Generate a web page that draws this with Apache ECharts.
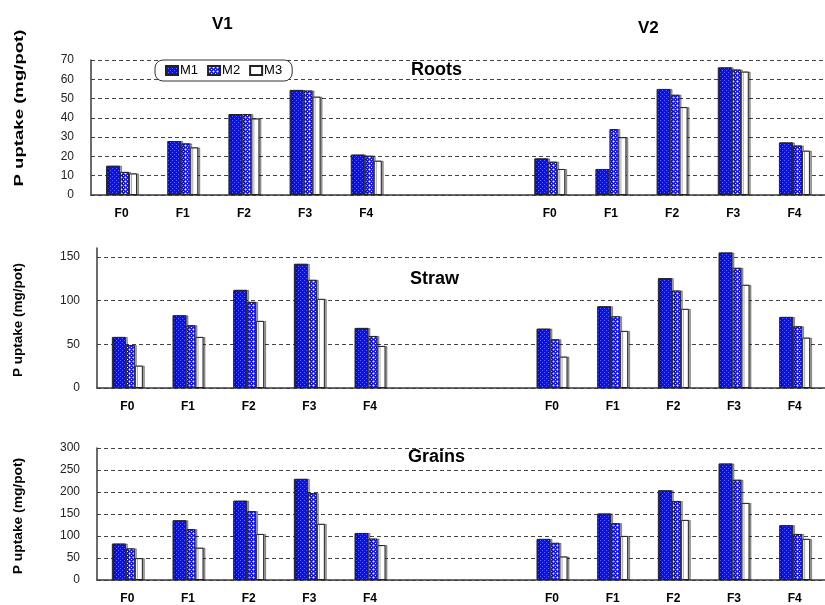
<!DOCTYPE html>
<html>
<head>
<meta charset="utf-8">
<title>P uptake</title>
<script src="https://cdn.jsdelivr.net/npm/echarts@6/dist/echarts.min.js"></script>
<style>
  html, body { margin: 0; padding: 0; background: #fff; }
  #chart { width: 825px; height: 605px; }
</style>
</head>
<body>
<div id="chart"></div>
<script>
// categories: F0..F4 for V1, two empty slots, F0..F4 for V2
let levels = ['F0', 'F1', 'F2', 'F3', 'F4']
let categories = levels.concat(['', ''], levels)
let seriesNames = ['M1', 'M2', 'M3']

// values: first five V1, last five V2
let rootsM1 = [15.2, 28, 42, 54.5, 21, 19, 13.5, 55, 66.2, 27.3]
let rootsM2 = [12, 26.8, 42, 54.2, 20.4, 17.3, 34.2, 52, 65.1, 25.7]
let rootsM3 = [11.2, 24.7, 39.7, 51, 17.8, 13.5, 30, 45.6, 64, 23]

let strawM1 = [58.4, 83.2, 112.2, 142, 68.7, 67.9, 93.5, 125.6, 155, 81.3]
let strawM2 = [49.2, 71.8, 98.5, 123.7, 59.5, 55.7, 82, 111.5, 137.4, 70.6]
let strawM3 = [25.6, 58.4, 76.7, 101.9, 48.1, 35.9, 65.3, 90.5, 118, 57.6]

let grainsM1 = [83, 135.9, 180.4, 230, 106.9, 93.5, 151.4, 204, 265, 124.7]
let grainsM2 = [72, 115.8, 156.6, 197.5, 94.3, 84.6, 129.2, 179.7, 228, 104.7]
let grainsM3 = [49.7, 73.5, 104.7, 127.7, 79.4, 53.5, 100.2, 136.6, 175.2, 93.5]

let font = 'Liberation Sans, Arial, sans-serif'

// small tiles used as bar fills
function makeTile (base, dots) {
  let c = document.createElement('canvas')
  c.width = 4
  c.height = 4
  let ctx = c.getContext('2d')
  ctx.fillStyle = base
  ctx.fillRect(0, 0, 4, 4)
  dots.forEach(function (d) {
    ctx.fillStyle = d[2]
    ctx.fillRect(d[0], d[1], 1, 1)
  })
  return c
}
let fillM1 = { image: makeTile('#0e0ef0', [[0, 0, '#5868ff'], [2, 2, '#5868ff']]), repeat: 'repeat' }
let fillM2 = {
  image: makeTile('#1818f2', [[1, 1, '#ffffff'], [3, 3, '#ffffff'], [1, 0, '#8090ff'], [0, 1, '#8090ff'], [2, 1, '#8090ff'], [1, 2, '#8090ff']]),
  repeat: 'repeat'
}
let fills = [fillM1, fillM2, '#ffffff']
let barWidths = [14, 9, 8]

function withGap (arr) {
  return arr.slice(0, 5).concat([null, null], arr.slice(5))
}

let panels = [
  { name: 'Roots', data: [rootsM1, rootsM2, rootsM3], max: 70, interval: 10, grid: { left: 91, right: -7, top: 60, height: 135 } },
  { name: 'Straw', data: [strawM1, strawM2, strawM3], max: 160, interval: 50, grid: { left: 97, right: -3, top: 248, height: 140 } },
  { name: 'Grains', data: [grainsM1, grainsM2, grainsM3], max: 300, interval: 50, grid: { left: 97, right: -3, top: 448, height: 134 } }
]

let grids = []
let xAxes = []
let yAxes = []
let series = []
panels.forEach(function (p, i) {
  grids.push(p.grid)
  xAxes.push({
    type: 'category',
    gridIndex: i,
    data: categories,
    axisTick: { show: false },
    axisLine: { lineStyle: { color: '#3a3a3a', width: 1.5 } },
    axisLabel: { interval: 0, margin: 13, color: '#000', fontSize: 12, fontWeight: 'bold', fontFamily: font }
  })
  yAxes.push({
    type: 'value',
    gridIndex: i,
    min: 0,
    max: p.max,
    interval: p.interval,
    axisLine: { show: true, lineStyle: { color: '#3a3a3a', width: 1.5 } },
    axisTick: { show: false },
    axisLabel: { margin: 17, color: '#222', fontSize: 12, fontFamily: font, showMaxLabel: p.max % p.interval === 0 },
    splitLine: {
      show: true,
      showMaxLine: p.max % p.interval === 0,
      lineStyle: { color: '#444', width: 1, type: [4, 3] }
    }
  })
  p.data.forEach(function (vals, k) {
    series.push({
      name: seriesNames[k],
      type: 'bar',
      xAxisIndex: i,
      yAxisIndex: i,
      barWidth: barWidths[k],
      barGap: '0%',
      data: withGap(vals),
      itemStyle: {
        color: fills[k],
        borderColor: '#222',
        borderWidth: 1,
        shadowColor: 'rgba(0,0,0,0.35)',
        shadowOffsetX: 2,
        shadowBlur: 0
      }
    })
  })
})

let titleStyle = { color: '#000', fontWeight: 'bold', fontFamily: font }
let myChart = echarts.init(document.getElementById('chart'))
let option = {
  animation: false,
  title: [
    { text: 'V1', left: 212, top: 16, padding: 0, textStyle: Object.assign({ fontSize: 17 }, titleStyle) },
    { text: 'V2', left: 638, top: 20, padding: 0, textStyle: Object.assign({ fontSize: 17 }, titleStyle) },
    { text: 'Roots', left: 411, top: 61, padding: 0, textStyle: Object.assign({ fontSize: 18 }, titleStyle) },
    { text: 'Straw', left: 410, top: 270, padding: 0, textStyle: Object.assign({ fontSize: 18 }, titleStyle) },
    { text: 'Grains', left: 408, top: 448, padding: 0, textStyle: Object.assign({ fontSize: 18 }, titleStyle) }
  ],
  legend: {
    data: seriesNames,
    left: 155,
    top: 60,
    padding: [4, 10],
    itemGap: 9,
    itemWidth: 12,
    itemHeight: 9,
    icon: 'rect',
    borderColor: '#333',
    borderWidth: 1,
    borderRadius: 8,
    backgroundColor: '#fff',
    itemStyle: { shadowColor: 'transparent', shadowOffsetX: 0 },
    textStyle: { fontSize: 13, color: '#000', fontFamily: font, padding: [0, 0, 0, -3] }
  },
  graphic: [
    { type: 'text', x: 19, y: 108, rotation: Math.PI / 2, scaleX: 1.43, style: { text: 'P uptake (mg/pot)', font: 'bold 13px ' + font, fill: '#000', align: 'center', verticalAlign: 'middle' } },
    { type: 'text', x: 18, y: 320, rotation: Math.PI / 2, scaleX: 1.04, style: { text: 'P uptake (mg/pot)', font: 'bold 13px ' + font, fill: '#000', align: 'center', verticalAlign: 'middle' } },
    { type: 'text', x: 18, y: 516, rotation: Math.PI / 2, scaleX: 1.06, style: { text: 'P uptake (mg/pot)', font: 'bold 13px ' + font, fill: '#000', align: 'center', verticalAlign: 'middle' } }
  ],
  grid: grids,
  xAxis: xAxes,
  yAxis: yAxes,
  series: series
}
myChart.setOption(option)
</script>
</body>
</html>
